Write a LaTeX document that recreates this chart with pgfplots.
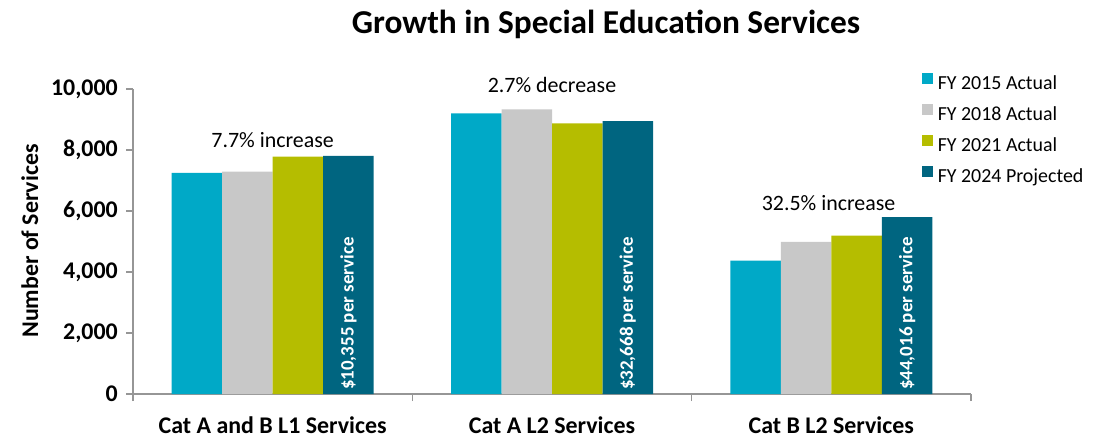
\documentclass[border=0pt]{standalone}
\usepackage{pgfplots}
\pgfplotsset{compat=1.18}
\usepackage{fontspec}
\setmainfont{Carlito}[Numbers={Lining,Monospaced}]
\definecolor{c15}{HTML}{00A9C7}
\definecolor{c18}{HTML}{C8C8C8}
\definecolor{c21}{HTML}{B5BD00}
\definecolor{c24}{HTML}{006580}
\definecolor{axgray}{HTML}{969696}
\newcommand{\ylab}[1]{\bfseries\fontsize{24}{28}\selectfont #1}
\begin{document}
\begin{tikzpicture}
\useasboundingbox (0,0) rectangle (1095bp,441bp);
\begin{axis}[
  at={(133bp,47bp)}, anchor=south west,
  scale only axis, width=838bp, height=305bp,
  xmin=-0.5, xmax=2.5, ymin=0, ymax=10000,
  clip=false,
  ybar=0pt, bar width=50.5bp,
  axis x line*=bottom, axis y line*=left,
  axis line style={axgray, line width=1.2bp, -},
  xtick={-0.5,0.5,1.5,2.5},
  x tick label as interval,
  xticklabels={Cat A and B L1 Services, Cat A L2 Services, Cat B L2 Services},
  ytick={0,2000,4000,6000,8000,10000},
  yticklabels={\ylab{0},\ylab{2,000},\ylab{4,000},\ylab{6,000},\ylab{8,000},\ylab{10,000}},
  tick align=outside,
  major tick length=7bp,
  tick style={axgray, line width=1.2bp},
  scaled y ticks=false,
  xticklabel style={font=\bfseries\fontsize{24}{28}\selectfont, yshift=-12bp},
  yticklabel style={font=\bfseries\fontsize{24}{28}\selectfont, inner sep=0pt, xshift=-8bp},
  legend style={at={(0.941,1.054)}, anchor=north west, draw=none, fill=none,
    font=\fontsize{20}{24}\selectfont, inner sep=0pt, row sep=10bp, column sep=5bp,
    nodes={inner sep=0pt, text height=14bp, text depth=4bp}},
  legend image code/.code={\fill[#1] (0bp,1bp) rectangle (11bp,12bp);},
  legend cell align=left,
]
\addplot[fill=c15, draw=none] coordinates {(0,7250) (1,9200) (2,4370)};
\addplot[fill=c18, draw=none] coordinates {(0,7290) (1,9330) (2,4990)};
\addplot[fill=c21, draw=none] coordinates {(0,7780) (1,8870) (2,5190)};
\addplot[fill=c24, draw=none] coordinates {(0,7810) (1,8950) (2,5800)};
\legend{FY 2015 Actual, FY 2018 Actual, FY 2021 Actual, FY 2024 Projected}
\node[anchor=base, font=\fontsize{22}{26}\selectfont] at (axis cs:0,8070) {7.7\% increase};
\node[anchor=base, font=\fontsize{22}{26}\selectfont] at (axis cs:1,9870) {2.7\% decrease};
\node[anchor=base, font=\fontsize{22}{26}\selectfont] at (axis cs:1.99,6030) {32.5\% increase};
\node[rotate=90, anchor=west, text=white, inner sep=0pt, font=\bfseries\fontsize{19}{22}\selectfont] at (axis cs:0.2715,130) {\$10,355 per service};
\node[rotate=90, anchor=west, text=white, inner sep=0pt, font=\bfseries\fontsize{19}{22}\selectfont] at (axis cs:1.2715,130) {\$32,668 per service};
\node[rotate=90, anchor=west, text=white, inner sep=0pt, font=\bfseries\fontsize{19}{22}\selectfont] at (axis cs:2.2715,130) {\$44,016 per service};
\end{axis}
\node[anchor=base, font=\bfseries\fontsize{33.5}{40}\selectfont] at (606bp,407bp) {Growth in Special Education Services};
\node[rotate=90, anchor=base, font=\bfseries\fontsize{24}{28}\selectfont] at (38bp,200bp) {Number of Services};
\end{tikzpicture}
\end{document}
